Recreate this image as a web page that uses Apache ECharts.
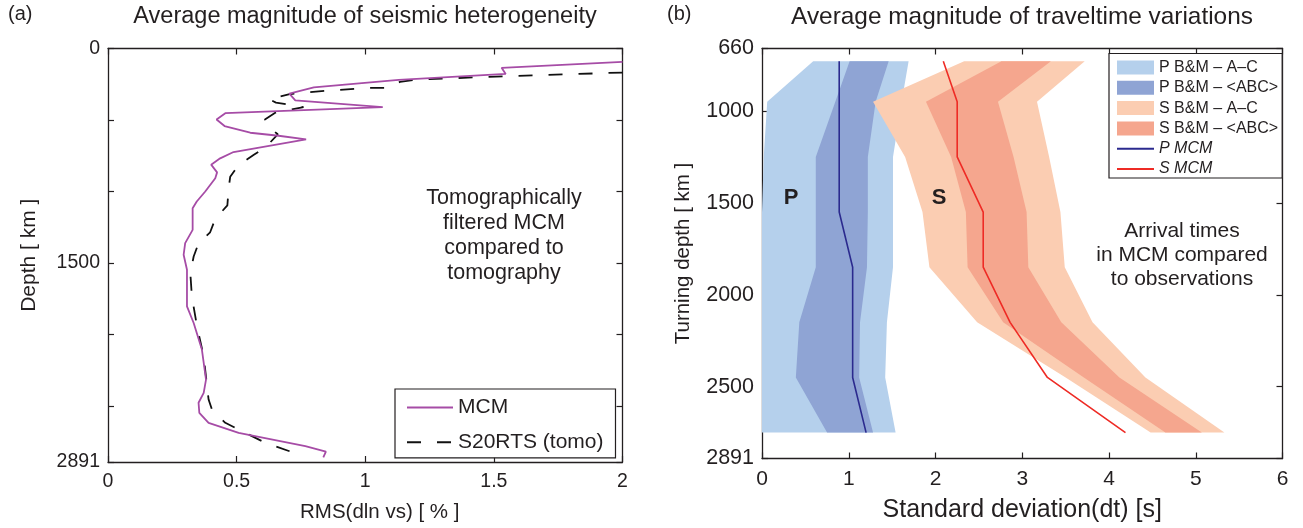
<!DOCTYPE html>
<html>
<head>
<meta charset="utf-8">
<script src="https://cdn.jsdelivr.net/npm/echarts@6/dist/echarts.min.js"></script>
<style>
  html, body { margin: 0; padding: 0; background: #fff; }
  #chart { width: 1303px; height: 528px; }
</style>
</head>
<body>
<div id="chart"></div>
<script>
// ---- Panel (a): RMS of dln vs with depth ----
const mcmDepth = [93, 135, 178, 220, 272, 316, 362, 410, 452, 496, 542, 589, 610, 636, 724, 768, 812, 866, 907, 1000, 1070, 1117, 1268, 1361, 1442, 1547, 1803, 1919, 2105, 2315, 2408, 2477, 2547, 2617, 2687, 2780, 2819, 2859];
const mcmRms   = [2.0, 1.53, 1.546, 1.13, 0.80, 0.705, 0.728, 1.068, 0.456, 0.422, 0.453, 0.553, 0.663, 0.77, 0.488, 0.436, 0.401, 0.424, 0.417, 0.378, 0.345, 0.329, 0.329, 0.300, 0.294, 0.307, 0.307, 0.333, 0.365, 0.381, 0.372, 0.352, 0.355, 0.391, 0.508, 0.767, 0.847, 0.837];

const tomoDepth = [168, 193, 217, 233, 275, 276, 298, 318, 354, 378, 410, 449, 496, 542, 600, 690, 743, 814, 897, 979, 1097, 1191, 1285, 1361, 1454, 1570, 1733, 1943, 2152, 2361, 2454, 2524, 2617, 2687, 2756, 2838];
const tomoRms   = [2.0, 1.56, 1.2, 1.135, 1.085, 1.01, 0.83, 0.71, 0.625, 0.653, 0.76, 0.65, 0.61, 0.62, 0.66, 0.613, 0.567, 0.508, 0.475, 0.469, 0.464, 0.417, 0.397, 0.352, 0.333, 0.320, 0.326, 0.346, 0.372, 0.385, 0.391, 0.404, 0.456, 0.534, 0.611, 0.741];

const depthTicksA  = [0, 500, 1000, 1500, 2000, 2500, 2891];
const depthLabelsA = [0, 1500, 2891];

// ---- Panel (b): traveltime standard deviation with turning depth ----
const turnDepth = [730, 950, 1250, 1550, 1850, 2150, 2450, 2750];
const pAcLow    = [0.59, 0.06, 0.02, 0.0, 0.0, 0.0, 0.0, 0.0];
const pAcHigh   = [1.69, 1.61, 1.51, 1.51, 1.51, 1.44, 1.42, 1.54];
const pAbcLow   = [1.01, 0.845, 0.62, 0.62, 0.62, 0.43, 0.39, 0.75];
const pAbcHigh  = [1.46, 1.31, 1.22, 1.22, 1.21, 1.13, 1.12, 1.28];
const sAcLow    = [2.33, 1.28, 1.65, 1.85, 1.93, 2.48, 3.50, 4.48];
const sAcHigh   = [3.72, 3.17, 3.31, 3.44, 3.49, 3.81, 4.42, 5.33];
const sAbcLow   = [2.76, 1.89, 2.18, 2.35, 2.37, 2.78, 3.71, 4.65];
const sAbcHigh  = [3.33, 2.72, 2.90, 3.05, 3.07, 3.45, 4.12, 5.07];
const pMcm      = [0.89, 0.89, 0.89, 0.89, 1.045, 1.045, 1.045, 1.20];
const sMcm      = [2.09, 2.25, 2.25, 2.55, 2.55, 2.86, 3.29, 4.19];

const depthTicksB  = [660, 1000, 1500, 2000, 2500, 2891];
const depthLabelsB = [660, 1000, 1500, 2000, 2500, 2891];

const FONT = '"Liberation Sans", Arial, Helvetica, sans-serif';
const INK = '#231f20';

const colors = {
  mcm: '#a64ca6',
  pAc: '#b5d0ec',
  pAbc: '#8fa4d4',
  sAc: '#fbcdb2',
  sAbc: '#f5a68e',
  pLine: '#2b2a8e',
  sLine: '#ee2b25'
};

const pairs = (xs, ys) => xs.map((x, i) => [x, ys[i]]);

// Band polygon between a low and a high bound, drawn once through the grid's scales
function bandSeries(name, low, high, color, xIdx, yIdx) {
  return {
    name: name,
    type: 'custom',
    xAxisIndex: xIdx,
    yAxisIndex: yIdx,
    itemStyle: { color: color },
    data: [[low[0], turnDepth[0]]],
    silent: true,
    renderItem: function (params, api) {
      const pts = [];
      for (let i = 0; i < turnDepth.length; i++) pts.push(api.coord([low[i], turnDepth[i]]));
      for (let i = turnDepth.length - 1; i >= 0; i--) pts.push(api.coord([high[i], turnDepth[i]]));
      return {
        type: 'polygon',
        shape: { points: pts },
        style: { fill: color }
      };
    },
    z: 1
  };
}

const axisLine = { show: true, onZero: false, lineStyle: { color: INK, width: 1.3 } };
const tickStyle = { color: INK, width: 1.2 };
const labelStyle = (size) => ({ color: INK, fontFamily: FONT, fontSize: size, formatter: (v) => String(v) });
const nameStyle = (size, extra) => Object.assign({ color: INK, fontFamily: FONT, fontSize: size }, extra || {});

function xAxes(gridIndex, max, interval, nameText, nameGap, nameTextStyle, labelSize) {
  return [
    {
      gridIndex, type: 'value', min: 0, max, interval, position: 'bottom',
      name: nameText, nameLocation: 'middle', nameGap, nameTextStyle,
      axisLine, splitLine: { show: false },
      axisTick: { inside: true, length: 6, lineStyle: tickStyle },
      axisLabel: Object.assign({ margin: 10, showMinLabel: true, showMaxLabel: true }, labelStyle(labelSize))
    },
    {
      gridIndex, type: 'value', min: 0, max, interval, position: 'top',
      axisLine, splitLine: { show: false },
      axisTick: { inside: true, length: 6, lineStyle: tickStyle },
      axisLabel: { show: false }
    }
  ];
}

function yAxes(gridIndex, min, max, ticks, labels, nameText, gap, nameTextStyle, labelSize) {
  return [
    {
      gridIndex, type: 'value', min, max, inverse: true, position: 'left',
      name: nameText, nameLocation: 'middle', nameGap: gap, nameTextStyle,
      axisLine, splitLine: { show: false },
      axisTick: { inside: true, length: 6, lineStyle: tickStyle, customValues: ticks },
      axisLabel: Object.assign({ margin: 8, customValues: labels }, labelStyle(labelSize))
    },
    {
      gridIndex, type: 'value', min, max, inverse: true, position: 'right',
      axisLine, splitLine: { show: false },
      axisTick: { inside: true, length: 6, lineStyle: tickStyle, customValues: ticks },
      axisLabel: { show: false }
    }
  ];
}

const chart = echarts.init(document.getElementById('chart'), null, { renderer: 'canvas' });

const hideMarker = { opacity: 0 };

const option = {
  animation: false,
  backgroundColor: '#fff',
  textStyle: { fontFamily: FONT },
  grid: [
    { left: 108, top: 48.5, width: 514.5, height: 414 },
    { left: 762, top: 48.5, width: 520.5, height: 414 }
  ],
  xAxis: [].concat(
    xAxes(0, 2, 0.5, 'RMS(dln vs) [ % ]', 40, nameStyle(20.5, { padding: [0, 0, 0, 29] }), 19.5),
    xAxes(1, 6, 1, 'Standard deviation(dt) [s]', 39.5, nameStyle(25), 21)
  ),
  yAxis: [].concat(
    yAxes(0, 0, 2891, depthTicksA, depthLabelsA, 'Depth [ km ]', 68, nameStyle(21), 19.5),
    yAxes(1, 660, 2891, depthTicksB, depthLabelsB, 'Turning depth [ km ]', 68, nameStyle(20.5), 21.5)
  ),
  legend: [
    {
      orient: 'vertical',
      left: 395, top: 389,
      padding: [8, 12, 5, 11],
      itemWidth: 46, itemHeight: 14, itemGap: 13.8,
      borderColor: INK, borderWidth: 1.2,
      backgroundColor: '#fff',
      textStyle: { color: INK, fontFamily: FONT, fontSize: 21 },
      data: [
        { name: 'MCM', itemStyle: hideMarker },
        { name: 'S20RTS (tomo)', itemStyle: hideMarker }
      ]
    },
    {
      orient: 'vertical',
      left: 1109, top: 53.5,
      padding: [6, 4, 1, 7],
      itemWidth: 37, itemHeight: 14, itemGap: 4.3,
      borderColor: INK, borderWidth: 1.2,
      backgroundColor: '#fff',
      textStyle: { color: INK, fontFamily: FONT, fontSize: 16 },
      data: [
        { name: 'P B&M – A–C', icon: 'rect' },
        { name: 'P B&M – <ABC>', icon: 'rect' },
        { name: 'S B&M – A–C', icon: 'rect' },
        { name: 'S B&M – <ABC>', icon: 'rect' },
        { name: 'P MCM', itemStyle: hideMarker, textStyle: { fontStyle: 'italic' } },
        { name: 'S MCM', itemStyle: hideMarker, textStyle: { fontStyle: 'italic' } }
      ]
    }
  ],
  series: [
    {
      name: 'MCM', type: 'line', xAxisIndex: 0, yAxisIndex: 0,
      data: pairs(mcmRms, mcmDepth), symbol: 'none', clip: true,
      lineStyle: { color: colors.mcm, width: 1.8 }, itemStyle: { color: colors.mcm }, z: 3
    },
    {
      name: 'S20RTS (tomo)', type: 'line', xAxisIndex: 0, yAxisIndex: 0,
      data: pairs(tomoRms, tomoDepth), symbol: 'none', clip: true,
      lineStyle: { color: '#111', width: 1.8, type: [14, 16] }, itemStyle: { color: '#111' }, z: 2
    },
    bandSeries('P B&M – A–C', pAcLow, pAcHigh, colors.pAc, 2, 2),
    bandSeries('P B&M – <ABC>', pAbcLow, pAbcHigh, colors.pAbc, 2, 2),
    bandSeries('S B&M – A–C', sAcLow, sAcHigh, colors.sAc, 2, 2),
    bandSeries('S B&M – <ABC>', sAbcLow, sAbcHigh, colors.sAbc, 2, 2),
    {
      name: 'P MCM', type: 'line', xAxisIndex: 2, yAxisIndex: 2,
      data: pairs(pMcm, turnDepth), symbol: 'none',
      lineStyle: { color: colors.pLine, width: 1.6 }, itemStyle: { color: colors.pLine }, z: 4
    },
    {
      name: 'S MCM', type: 'line', xAxisIndex: 2, yAxisIndex: 2,
      data: pairs(sMcm, turnDepth), symbol: 'none',
      lineStyle: { color: colors.sLine, width: 1.6 }, itemStyle: { color: colors.sLine }, z: 4
    }
  ],
  graphic: [
    { type: 'text', left: 8, top: 4, style: { text: '(a)', font: '20px ' + FONT, fill: INK } },
    { type: 'text', left: 667, top: 4, style: { text: '(b)', font: '20px ' + FONT, fill: INK } },
    { type: 'text', x: 365, y: 17, style: { text: 'Average magnitude of seismic heterogeneity', font: '23.5px ' + FONT, fill: INK, align: 'center', verticalAlign: 'middle' } },
    { type: 'text', x: 1022, y: 17, style: { text: 'Average magnitude of traveltime variations', font: '24.4px ' + FONT, fill: INK, align: 'center', verticalAlign: 'middle' } },
    { type: 'text', x: 504, y: 186, style: { text: 'Tomographically\nfiltered MCM\ncompared to\ntomography', font: '21.5px ' + FONT, fill: INK, align: 'center', verticalAlign: 'top', lineHeight: 25 }, z: 10 },
    { type: 'text', x: 1182, y: 219.5, style: { text: 'Arrival times\nin MCM compared\nto observations', font: '21px ' + FONT, fill: INK, align: 'center', verticalAlign: 'top', lineHeight: 24 }, z: 10 },
    { type: 'text', x: 791, y: 198, style: { text: 'P', font: 'bold 22px ' + FONT, fill: INK, align: 'center', verticalAlign: 'middle' }, z: 10 },
    { type: 'text', x: 939, y: 198, style: { text: 'S', font: 'bold 22px ' + FONT, fill: INK, align: 'center', verticalAlign: 'middle' }, z: 10 }
  ]
};

chart.setOption(option);
</script>
</body>
</html>
